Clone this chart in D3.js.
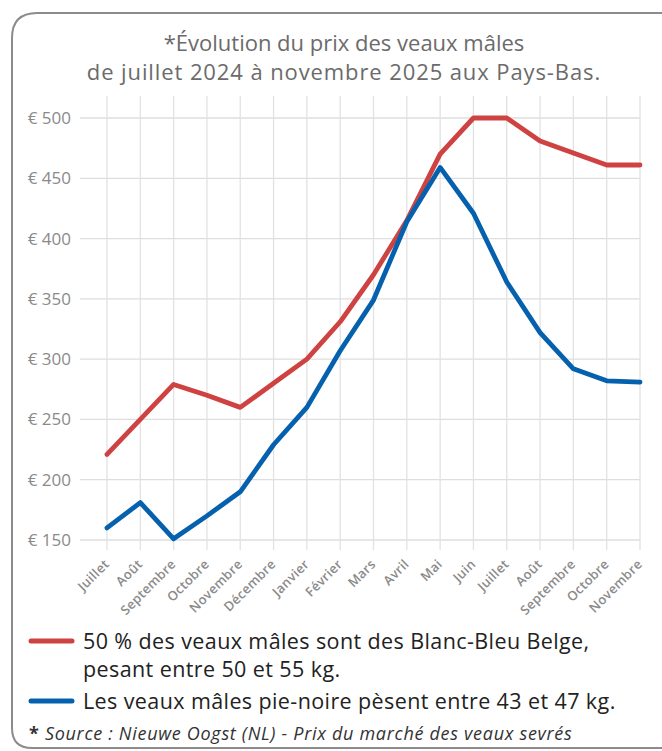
<!DOCTYPE html>
<html>
  <head>
    <meta charset="utf-8" />
    <title>Prix des veaux mâles</title>
    <script src="https://d3js.org/d3.v7.min.js"></script>
    <style>
       body {
         margin:0;
         background:#fff;
       }
       text { font-family: "Open Sans", "Noto Sans", sans-serif; }
    </style>
  </head>
  <body>

    <svg id="chart"></svg>

    <script>

      // months from juillet 2024 to novembre 2025
      var months = ["Juillet", "Août", "Septembre", "Octobre", "Novembre", "Décembre", "Janvier",
        "Février", "Mars", "Avril", "Mai", "Juin", "Juillet", "Août", "Septembre", "Octobre", "Novembre"];
      var bbb = [221, 250, 279, 270, 260, 280, 300, 331, 370, 415, 470, 500, 500, 481, 471, 461, 461];
      var pieNoire = [160, 181, 151, 170, 190, 229, 260, 307, 349, 414, 459, 421, 364, 322, 292, 282, 281];
      var yTicks = [150, 200, 250, 300, 350, 400, 450, 500];

      var titleLines = ["*Évolution du prix des veaux mâles", "de juillet 2024 à novembre 2025 aux Pays-Bas."];
      var legend = [
        { color: "#cf4242", lines: ["50 % des veaux mâles sont des Blanc-Bleu Belge,", "pesant entre 50 et 55 kg."] },
        { color: "#0561ad", lines: ["Les veaux mâles pie-noire pèsent entre 43 et 47 kg."] }
      ];

      var width = 662, height = 751;
      var margin = { top: 118, right: 22, bottom: 211, left: 107 };

      var svg = d3.select("#chart")
        .attr("width", width)
        .attr("height", height);

      // frame with rounded left corners
      svg.append("path")
        .attr("d", "M 662 13 L 37 13 Q 12 13 12 38 L 12 728 Q 12 748 32 748 L 662 748")
        .attr("fill", "none")
        .attr("stroke", "#8c8c8c")
        .attr("stroke-width", 2);

      svg.selectAll(".title")
        .data(titleLines)
        .enter().append("text")
        .attr("class", "title")
        .attr("x", 344)
        .attr("y", function(d, i) { return 51 + i * 29; })
        .attr("text-anchor", "middle")
        .attr("font-size", 22)
        .attr("font-weight", 500)
        .attr("letter-spacing", function(d, i) { return i ? 0.9 : 0; })
        .attr("fill", "#6b6b6b")
        .text(function(d) { return d; });

      var x = d3.scalePoint()
        .domain(d3.range(months.length))
        .range([margin.left, width - margin.right]);

      var y = d3.scaleLinear()
        .domain([150, 500])
        .range([height - margin.bottom + 0, margin.top]);

      // horizontal grid
      svg.append("g")
        .selectAll("line")
        .data(yTicks)
        .enter().append("line")
        .attr("x1", 80)
        .attr("x2", x(months.length - 1))
        .attr("y1", function(d) { return y(d); })
        .attr("y2", function(d) { return y(d); })
        .attr("stroke", "#dedede")
        .attr("stroke-width", 1.3);

      // vertical grid
      svg.append("g")
        .selectAll("line")
        .data(months)
        .enter().append("line")
        .attr("x1", function(d, i) { return x(i); })
        .attr("x2", function(d, i) { return x(i); })
        .attr("y1", 96)
        .attr("y2", y(150) + 10)
        .attr("stroke", "#e2e2e2")
        .attr("stroke-width", 1.3);

      // y labels
      svg.append("g")
        .selectAll("text")
        .data(yTicks)
        .enter().append("text")
        .attr("x", 71)
        .attr("y", function(d) { return y(d) + 6; })
        .attr("text-anchor", "end")
        .attr("font-size", 17)
        .attr("fill", "#8a8a8a")
        .text(function(d) { return "€ " + d; });

      // x labels
      svg.append("g")
        .selectAll("text")
        .data(months)
        .enter().append("text")
        .attr("transform", function(d, i) {
          return "translate(" + (x(i) + 3) + "," + (y(150) + 25) + ") rotate(-45)";
        })
        .attr("text-anchor", "end")
        .attr("font-size", 13)
        .attr("font-weight", 600)
        .attr("letter-spacing", 0.3)
        .attr("fill", "#8a8a8a")
        .text(function(d) { return d; });

      var line = d3.line()
        .x(function(d, i) { return x(i); })
        .y(function(d) { return y(d); });

      svg.append("path")
        .datum(bbb)
        .attr("d", line)
        .attr("fill", "none")
        .attr("stroke", legend[0].color)
        .attr("stroke-width", 4.8)
        .attr("stroke-linejoin", "round")
        .attr("stroke-linecap", "round");

      svg.append("path")
        .datum(pieNoire)
        .attr("d", line)
        .attr("fill", "none")
        .attr("stroke", legend[1].color)
        .attr("stroke-width", 4.8)
        .attr("stroke-linejoin", "round")
        .attr("stroke-linecap", "round");

      // legend
      var legendY = [641, 701];
      legend.forEach(function(item, k) {
        var g = svg.append("g");
        g.append("line")
          .attr("x1", 31).attr("x2", 72)
          .attr("y1", legendY[k]).attr("y2", legendY[k])
          .attr("stroke", item.color)
          .attr("stroke-width", 5)
          .attr("stroke-linecap", "round");
        g.selectAll("text")
          .data(item.lines)
          .enter().append("text")
          .attr("x", 83)
          .attr("y", function(d, i) { return legendY[k] + 8 + i * 28; })
          .attr("font-size", 21.5)
          .attr("letter-spacing", 0.4)
          .attr("fill", "#222")
          .text(function(d) { return d; });
      });

      // source
      var src = svg.append("text")
        .attr("x", 29)
        .attr("y", 740)
        .attr("font-size", 18)
        .attr("letter-spacing", 0.7)
        .attr("fill", "#333");
      src.append("tspan").attr("font-weight", 700).text("* ");
      src.append("tspan").attr("font-style", "italic").text("Source : Nieuwe Oogst (NL) - Prix du marché des veaux sevrés");

    </script>
  </body>
</html>
